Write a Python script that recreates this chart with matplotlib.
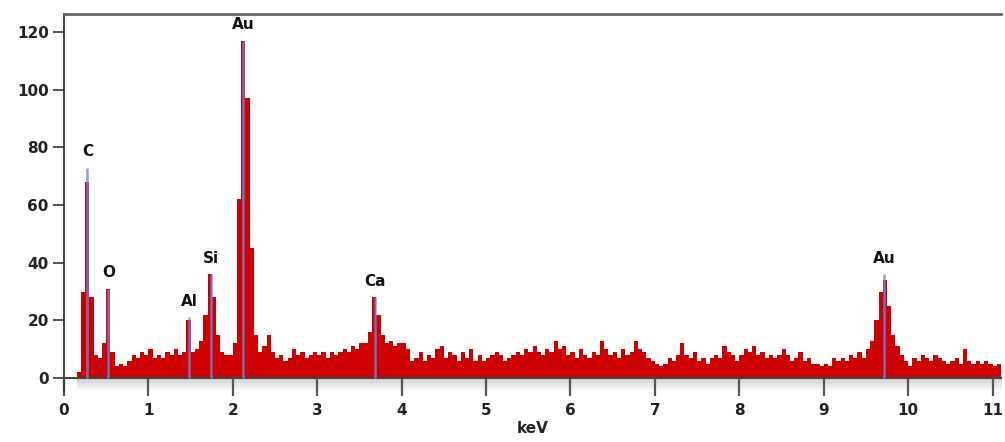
import numpy as np
import matplotlib
matplotlib.use("Agg")
import matplotlib.pyplot as plt

# EDS spectrum, counts per 0.05 keV channel (one row per keV)
bin_width = 0.05
counts = [
    0, 0, 0, 2, 30, 68, 28, 8, 7, 12, 31, 9, 4, 5, 4, 6, 8, 7, 9, 8,              # 0-1 keV
    10, 7, 8, 7, 9, 8, 10, 8, 9, 20, 9, 10, 13, 22, 36, 28, 15, 9, 8, 8,         # 1-2 keV
    12, 62, 117, 97, 45, 15, 9, 11, 15, 9, 7, 8, 6, 7, 10, 8, 9, 7, 8, 9,        # 2-3 keV
    8, 9, 7, 9, 8, 9, 10, 9, 11, 10, 12, 12, 16, 28, 22, 15, 12, 13, 11, 12,     # 3-4 keV
    12, 10, 6, 7, 9, 6, 8, 7, 10, 11, 7, 9, 8, 6, 9, 7, 10, 6, 8, 6,             # 4-5 keV
    7, 8, 9, 8, 6, 7, 8, 9, 8, 10, 9, 11, 9, 8, 10, 9, 13, 10, 11, 8,            # 5-6 keV
    9, 7, 10, 8, 7, 9, 8, 13, 10, 8, 9, 7, 10, 8, 9, 13, 10, 9, 7, 6,            # 6-7 keV
    5, 4, 5, 7, 6, 8, 12, 8, 7, 9, 6, 7, 5, 7, 8, 7, 11, 9, 8, 6,                # 7-8 keV
    8, 10, 9, 11, 8, 9, 7, 8, 7, 8, 10, 8, 6, 7, 9, 6, 7, 5, 5, 4,               # 8-9 keV
    5, 4, 7, 6, 7, 6, 8, 7, 9, 7, 10, 13, 20, 30, 34, 25, 15, 11, 8, 6,          # 9-10 keV
    4, 7, 6, 8, 7, 6, 8, 7, 6, 5, 6, 7, 5, 10, 6, 5, 6, 5, 6, 5,                 # 10-11 keV
    4, 5,                                                                        # 11- keV
]

# identified lines
peak_labels = ["C", "O", "Al", "Si", "Au", "Ca", "Au"]
peak_kev = [0.277, 0.525, 1.486, 1.740, 2.123, 3.690, 9.713]
peak_top = [73, 31, 21, 36, 117, 28, 36]

x_ticks = list(range(0, 12))
y_ticks = [0, 20, 40, 60, 80, 100, 120]

edges = np.arange(len(counts) + 1) * bin_width

fig = plt.figure(figsize=(10.05, 4.42), dpi=100)
ax = fig.add_axes([64 / 1005, 49.6 / 442, (1001 - 64) / 1005, (428 - 49.6) / 442])

# shaded strip under the energy axis
grad = np.linspace(0.8, 1.0, 50).reshape(-1, 1)
ax.imshow(grad, cmap="gray", vmin=0, vmax=1, aspect="auto",
          extent=(0.15, 11.1, -5, 0), origin="upper", zorder=0)

ax.stairs(counts, edges, fill=True, color="#cc0000", linewidth=0, zorder=2)

for lab, xk, top in zip(peak_labels, peak_kev, peak_top):
    ax.vlines(xk, 0, top, color="#6f86d8", linewidth=1.8, alpha=0.8, zorder=4)
    ax.annotate(lab, (xk, top), xytext=(0, 6), textcoords="offset points",
                ha="center", va="bottom", fontsize=11, fontweight="bold",
                color="#111111", zorder=5)

ax.set_xlim(0, 11.1)
ax.set_ylim(-5, 126.3)

ax.spines["bottom"].set_position(("data", 0))
ax.spines["bottom"].set_color("#444444")
ax.spines["bottom"].set_linewidth(1.5)
ax.spines["left"].set_color("#333333")
ax.spines["left"].set_linewidth(1.3)
ax.spines["top"].set_color("#666666")
ax.spines["top"].set_linewidth(2)
ax.spines["right"].set_visible(False)

ax.set_xticks(x_ticks)
ax.set_yticks(y_ticks)
ax.tick_params(axis="x", direction="out", length=13, width=1.6, color="#555555",
               pad=5, labelsize=11)
ax.tick_params(axis="y", direction="out", length=8, width=1.2, color="#333333",
               pad=3, labelsize=11)
for t in ax.get_xticklabels() + ax.get_yticklabels():
    t.set_fontweight("bold")
    t.set_color("#222222")

ax.set_xlabel("keV", fontsize=11, fontweight="bold", color="#222222", labelpad=2)

fig.savefig("out.png", dpi=100)
